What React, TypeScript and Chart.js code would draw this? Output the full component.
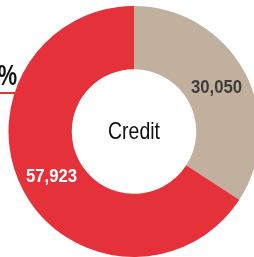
import React, { useEffect, useRef } from "react";
import { Chart, registerables } from "chart.js";

Chart.register(...registerables);

const categories = ["Other", "Credit"];
const values = [30050, 57923];
const valueLabels = ["30,050", "57,923"];
const colors = ["#c0b09d", "#e4313a"];
const labelColors = ["#3d3d3d", "#ffffff"];
const centerLabel = "Credit";
const calloutLabel = "66%";

const FONT = "'Liberation Sans', 'Arimo', Arial, sans-serif";

function drawScaled(
  ctx: CanvasRenderingContext2D,
  text: string,
  x: number,
  y: number,
  sx: number,
  align: "center" | "right" | "left",
  baseline: CanvasTextBaseline
) {
  ctx.save();
  ctx.translate(x, y);
  ctx.scale(sx, 1);
  ctx.textAlign = align;
  ctx.textBaseline = baseline;
  ctx.fillText(text, 0, 0);
  ctx.restore();
}

const labelsPlugin = {
  id: "customLabels",
  afterDatasetsDraw(chart: any) {
    const ctx: CanvasRenderingContext2D = chart.ctx;
    const meta = chart.getDatasetMeta(0);
    ctx.save();
    meta.data.forEach((arc: any, i: number) => {
      const p = arc.tooltipPosition();
      ctx.font = `bold 18px ${FONT}`;
      ctx.fillStyle = labelColors[i];
      drawScaled(ctx, valueLabels[i], p.x, p.y + 1, 0.93, "center", "middle");
    });
    const arc0: any = meta.data[0];
    if (arc0) {
      ctx.font = `24px ${FONT}`;
      ctx.fillStyle = "#111111";
      drawScaled(ctx, centerLabel, arc0.x, arc0.y + 1, 0.81, "center", "middle");
      // callout on the left
      ctx.font = `bold 29px ${FONT}`;
      ctx.fillStyle = "#111111";
      drawScaled(ctx, calloutLabel, 17, 79, 0.75, "right", "alphabetic");
      ctx.strokeStyle = "#e4313a";
      ctx.lineWidth = 2;
      ctx.beginPath();
      ctx.moveTo(-20, 87);
      ctx.lineTo(16, 87);
      ctx.stroke();
    }
    ctx.restore();
  },
};

export default function App() {
  const ref = useRef<HTMLCanvasElement>(null);
  useEffect(() => {
    if (!ref.current) return;
    const chart = new Chart(ref.current, {
      type: "doughnut",
      data: {
        labels: categories,
        datasets: [
          {
            data: values,
            backgroundColor: colors,
            borderWidth: 0,
          },
        ],
      },
      options: {
        animation: false,
        responsive: false,
        cutout: "49.6%",
        layout: { padding: 0 },
        plugins: { legend: { display: false }, tooltip: { enabled: false } },
      },
      plugins: [labelsPlugin],
    });
    return () => chart.destroy();
  }, []);
  return (
    <div
      style={{
        position: "fixed",
        left: 0,
        top: 0,
        width: 254,
        height: 257,
        overflow: "hidden",
        background: "#ffffff",
      }}
    >
      <canvas
        ref={ref}
        width={268}
        height={251}
        style={{ position: "absolute", left: 0, top: 6, width: 268, height: 251 }}
      />
    </div>
  );
}
